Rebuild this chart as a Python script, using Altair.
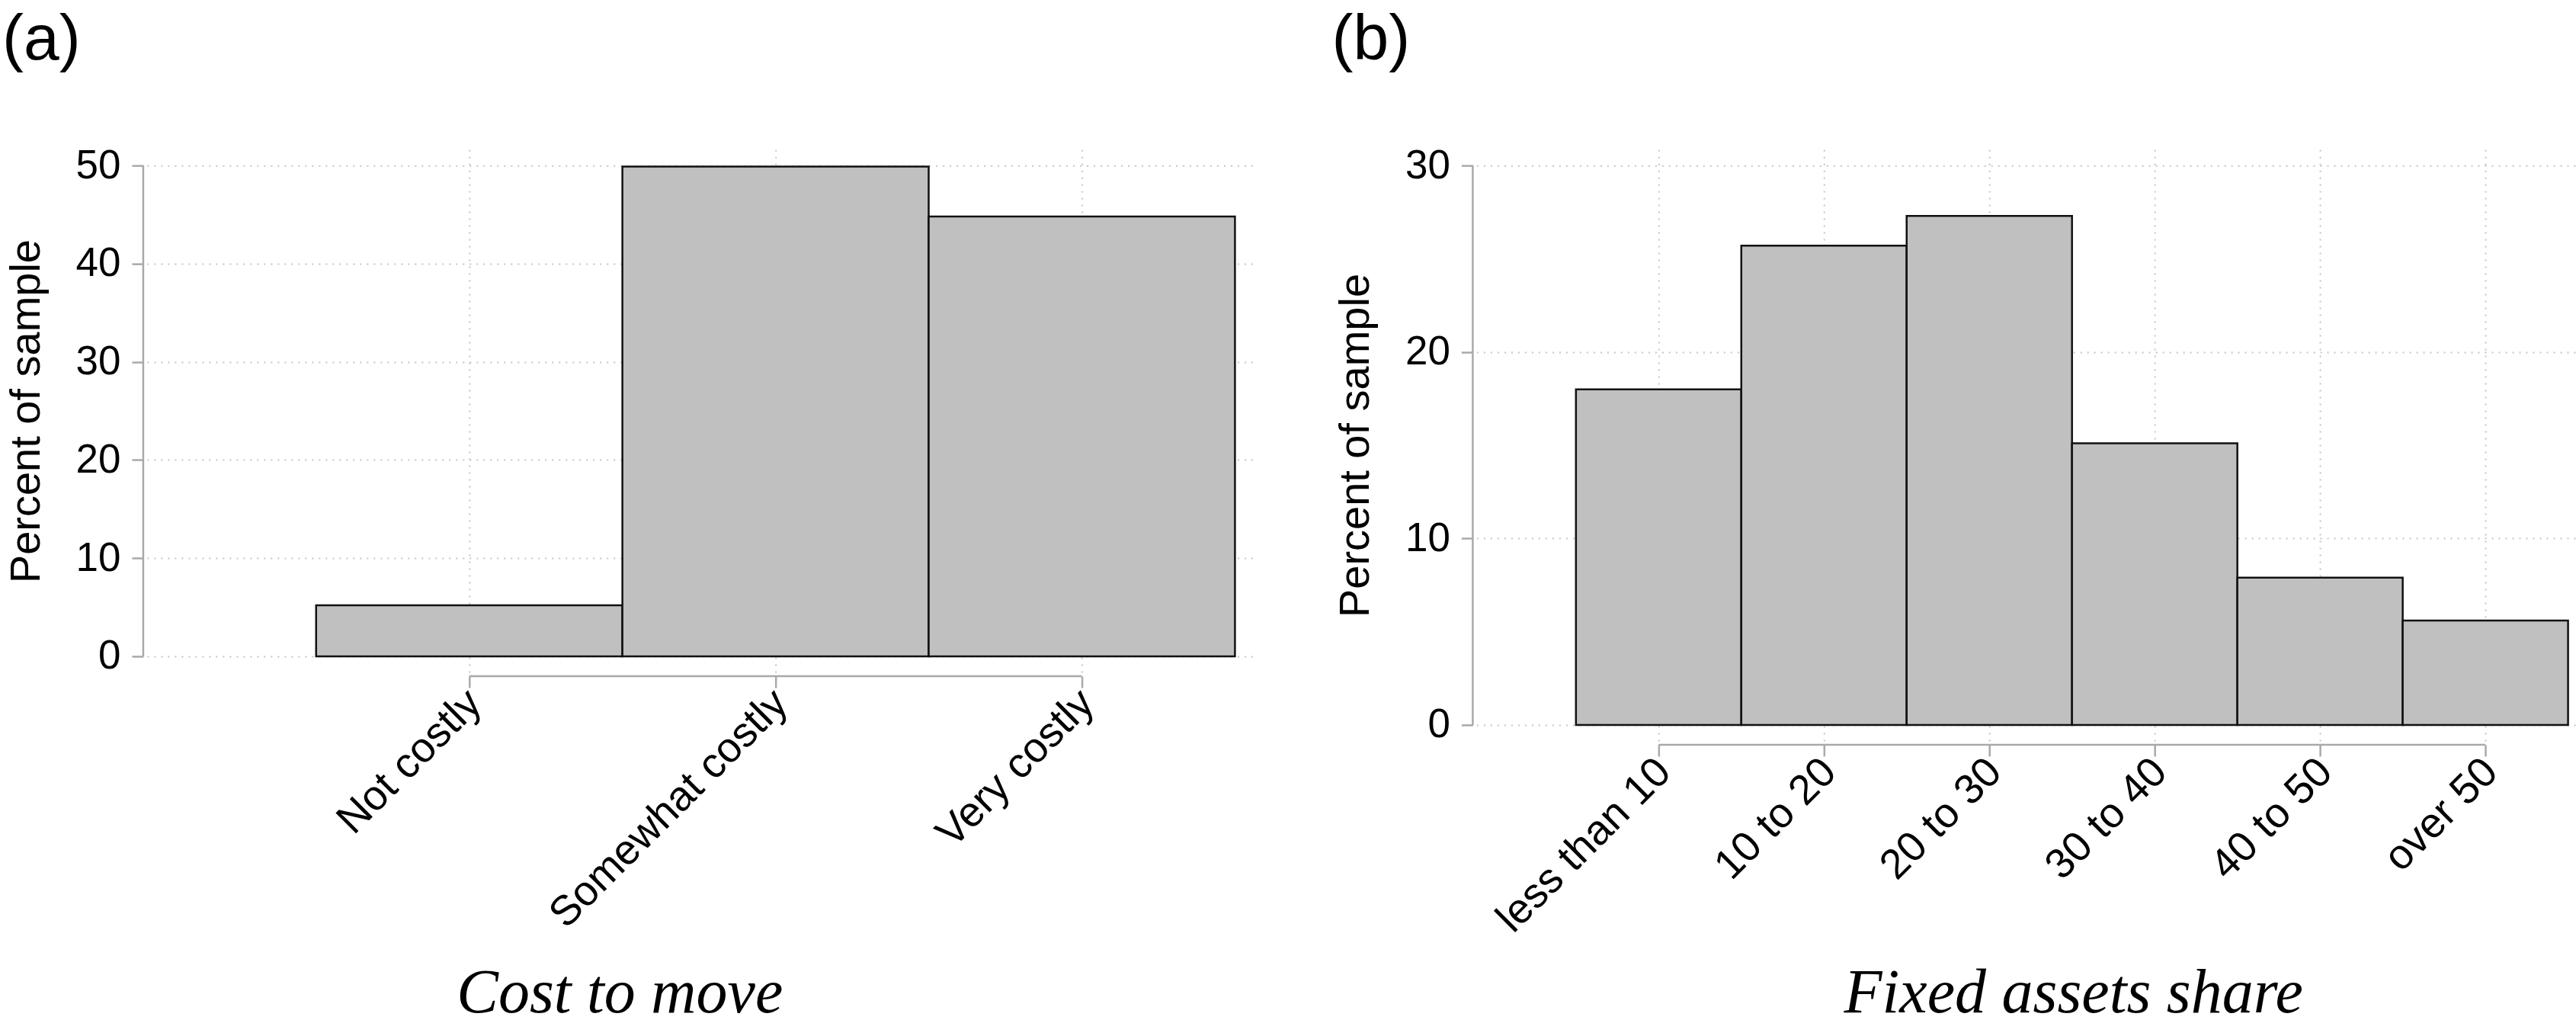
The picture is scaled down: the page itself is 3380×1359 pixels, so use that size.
import json
import altair as alt
import pandas as pd

# ---------------- data ----------------
cost_labels = ["Not costly", "Somewhat costly", "Very costly"]
cost_values = [5.2, 49.9, 44.8]
cost_yticks = [0, 10, 20, 30, 40, 50]

asset_labels = ["less than 10", "10 to 20", "20 to 30", "30 to 40", "40 to 50", "over 50"]
asset_values = [18.0, 25.7, 27.3, 15.1, 7.9, 5.6]
asset_yticks = [0, 10, 20, 30]

panel_titles = ["(a)", "(b)"]
x_titles = ["Cost to move", "Fixed assets share"]
y_title = "Percent of sample"

# ---------------- style ----------------
SANS = "Liberation Sans"
SERIF = "Liberation Serif"
AXIS_GRAY = "#a9a9a9"
GRID_GRAY = "#c4c4c4"
BAR_FILL = "#c0c0c0"
BAR_STROKE = "#111111"


def panel(labels, values, yticks, ptitle, xtitle, width, height, xdom, title_x, title_y):
    n = len(labels)
    pos = list(range(1, n + 1))
    df = pd.DataFrame({"pos": pos, "label": labels, "value": values})
    df["lo"] = df["pos"] - 0.5
    df["hi"] = df["pos"] + 0.5
    df["base"] = 0.0

    pad = 21
    t0, t1 = yticks[0], yticks[-1]
    u = (t1 - t0) / (height - 2 * pad)
    ydom = [t0 - pad * u, t1 + pad * u]

    xscale = alt.Scale(domain=xdom, nice=False, zero=False)
    yscale = alt.Scale(domain=ydom, nice=False, zero=False)

    label_expr = json.dumps(labels) + "[datum.value - 1]"
    xaxis = alt.Axis(
        values=pos, labelExpr=label_expr, labelAngle=-45, labelAlign="right",
        labelBaseline="top", labelPadding=-7, labelOffset=-12, labelFontSize=55,
        labelFont=SANS, labelColor="black", labelOverlap=False, labelFlush=False,
        labelLimit=0,
        tickSize=15, tickColor=AXIS_GRAY, tickWidth=2.5, domain=False, offset=5,
        grid=True, gridColor=GRID_GRAY, gridDash=[2, 7], gridWidth=2,
        title=xtitle, titleFont=SERIF, titleFontStyle="italic", titleFontWeight="normal",
        titleFontSize=82, titleColor="black", titleX=title_x, titleY=title_y,
        titleAlign="center", titleBaseline="alphabetic",
    )
    yaxis = alt.Axis(
        values=yticks, labelFontSize=53, labelFont=SANS, labelColor="black",
        labelPadding=15, tickSize=15, tickColor=AXIS_GRAY, tickWidth=2.5,
        domain=False, offset=5, grid=True, gridColor=GRID_GRAY, gridDash=[2, 7],
        gridWidth=2, title=y_title, titleFont=SANS, titleFontSize=56,
        titleFontWeight="normal", titleColor="black", titlePadding=36,
    )

    bars = alt.Chart(df).mark_rect(fill=BAR_FILL, stroke=BAR_STROKE, strokeWidth=2.5).encode(
        x=alt.X("lo:Q", scale=xscale, axis=xaxis),
        x2="hi:Q",
        y=alt.Y("value:Q", scale=yscale, axis=yaxis),
        y2="base:Q",
    )

    yline_df = pd.DataFrame({"a": [t0], "b": [t1]})
    yline = alt.Chart(yline_df).mark_rule(color=AXIS_GRAY, strokeWidth=2.5).encode(
        x=alt.value(-5),
        y=alt.Y("a:Q", scale=yscale, axis=yaxis),
        y2="b:Q",
    )
    xline_df = pd.DataFrame({"a": [pos[0]], "b": [pos[-1]]})
    xline = alt.Chart(xline_df).mark_rule(color=AXIS_GRAY, strokeWidth=2.5).encode(
        x=alt.X("a:Q", scale=xscale, axis=xaxis),
        x2="b:Q",
        y=alt.value(height + 5),
    )

    return alt.layer(bars, yline, xline).properties(
        width=width,
        height=height,
        title=alt.TitleParams(
            ptitle, anchor="start", frame="bounds", font=SANS, fontSize=84,
            fontWeight="normal", color="black", offset=95, dx=-3,
        ),
    )


pa = panel(cost_labels, cost_values, cost_yticks, panel_titles[0], x_titles[0],
           1452, 686, [-0.052, 3.56], 620, 441)
pb = panel(asset_labels, asset_values, asset_yticks, panel_titles[1], x_titles[1],
           1443, 776, [-0.101, 6.548], 783, 351)

chart = alt.hconcat(pa, pb, spacing=103).properties(
    padding={"left": 3, "top": 11, "right": 0, "bottom": 6},
    background="white",
).configure_view(stroke=None)

chart.save("out.html", embed_options={"renderer": "svg", "actions": False})
